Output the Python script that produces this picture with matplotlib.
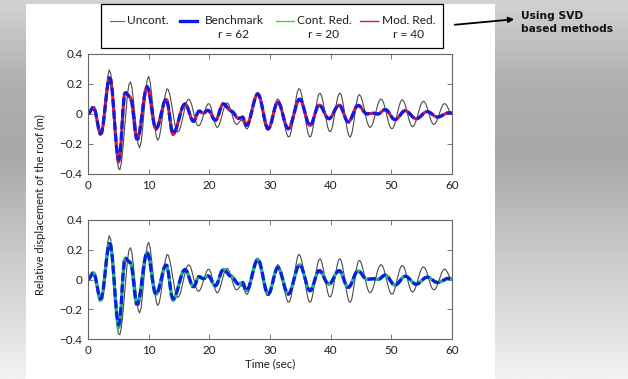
#! /usr/bin/env python3
# Roof displacement, uncontrolled vs controlled (SVD based reduced controllers)

import numpy as np
import matplotlib
matplotlib.use('Agg')
from matplotlib import pyplot as plt
from matplotlib.lines import Line2D
from matplotlib.patches import Rectangle, FancyArrowPatch
from matplotlib.colors import LinearSegmentedColormap

# ==== DATA (every 0.25 s) ====

time = np.arange(0, 60.001, 0.25)

# uncontrolled roof displacement (m)
uncont = [
    0.000, 0.009, 0.029, 0.047, 0.047, 0.012, -0.048, -0.106,
    -0.142, -0.134, -0.067, 0.039, 0.157, 0.251, 0.294, 0.269,
    0.170, 0.025, -0.139, -0.279, -0.363, -0.372, -0.324, -0.229,
    -0.107, 0.020, 0.129, 0.197, 0.214, 0.175, 0.087, -0.016,
    -0.119, -0.199, -0.225, -0.192, -0.097, 0.025, 0.145, 0.228,
    0.250, 0.212, 0.127, 0.027, -0.073, -0.150, -0.175, -0.156,
    -0.101, -0.024, 0.060, 0.130, 0.168, 0.162, 0.126, 0.070,
    0.007, -0.053, -0.099, -0.120, -0.113, -0.088, -0.047, 0.000,
    0.045, 0.080, 0.098, 0.096, 0.074, 0.036, -0.008, -0.048,
    -0.073, -0.080, -0.069, -0.044, -0.012, 0.022, 0.050, 0.067,
    0.068, 0.047, 0.008, -0.036, -0.072, -0.090, -0.084, -0.059,
    -0.024, 0.017, 0.051, 0.072, 0.074, 0.059, 0.030, -0.005,
    -0.038, -0.062, -0.070, -0.063, -0.049, -0.040, -0.047, -0.070,
    -0.093, -0.100, -0.082, -0.042, 0.011, 0.067, 0.113, 0.140,
    0.143, 0.120, 0.071, 0.018, -0.039, -0.085, -0.108, -0.106,
    -0.083, -0.043, 0.005, 0.050, 0.084, 0.100, 0.092, 0.063,
    0.016, -0.039, -0.091, -0.132, -0.153, -0.149, -0.113, -0.051,
    0.023, 0.092, 0.146, 0.169, 0.160, 0.123, 0.063, -0.007,
    -0.074, -0.126, -0.152, -0.149, -0.112, -0.051, 0.021, 0.087,
    0.129, 0.139, 0.121, 0.078, 0.022, -0.037, -0.086, -0.115,
    -0.117, -0.091, -0.039, 0.023, 0.082, 0.125, 0.140, 0.125,
    0.081, 0.020, -0.048, -0.108, -0.145, -0.154, -0.128, -0.070,
    0.002, 0.071, 0.118, 0.130, 0.115, 0.083, 0.039, -0.009,
    -0.052, -0.080, -0.090, -0.081, -0.056, -0.020, 0.022, 0.060,
    0.087, 0.100, 0.094, 0.071, 0.034, -0.009, -0.050, -0.082,
    -0.098, -0.096, -0.075, -0.038, 0.007, 0.048, 0.081, 0.095,
    0.089, 0.066, 0.030, -0.012, -0.049, -0.076, -0.085, -0.077,
    -0.054, -0.022, 0.015, 0.049, 0.074, 0.085, 0.080, 0.060,
    0.029, -0.007, -0.039, -0.062, -0.070, -0.064, -0.045, -0.018,
    0.012, 0.040, 0.061, 0.070, 0.065, 0.048, 0.026, 0.007,
    0.000,
]

# benchmark controller, r = 62
benchmark = [
    0.000, 0.008, 0.027, 0.043, 0.043, 0.011, -0.043, -0.096,
    -0.129, -0.123, -0.070, 0.017, 0.115, 0.197, 0.241, 0.232,
    0.153, 0.025, -0.119, -0.239, -0.304, -0.285, -0.153, 0.021,
    0.134, 0.143, 0.130, 0.118, 0.110, 0.076, -0.011, -0.107,
    -0.166, -0.165, -0.123, -0.052, 0.030, 0.108, 0.163, 0.183,
    0.163, 0.107, 0.034, -0.038, -0.087, -0.100, -0.085, -0.052,
    -0.009, 0.036, 0.074, 0.096, 0.095, 0.047, -0.031, -0.102,
    -0.130, -0.122, -0.101, -0.069, -0.031, 0.007, 0.039, 0.060,
    0.068, 0.059, 0.034, 0.002, -0.028, -0.047, -0.048, -0.027,
    0.003, 0.019, 0.018, 0.009, 0.005, 0.009, 0.020, 0.025,
    0.020, 0.004, -0.018, -0.036, -0.043, -0.033, -0.007, 0.026,
    0.054, 0.068, 0.065, 0.055, 0.041, 0.028, 0.021, 0.018,
    0.008, -0.008, -0.023, -0.030, -0.027, -0.025, -0.020, -0.041,
    -0.075, -0.074, -0.055, -0.022, 0.020, 0.062, 0.100, 0.125,
    0.134, 0.122, 0.087, 0.039, -0.014, -0.062, -0.091, -0.099,
    -0.084, -0.052, -0.010, 0.033, 0.065, 0.080, 0.074, 0.051,
    0.015, -0.026, -0.063, -0.090, -0.099, -0.091, -0.067, -0.031,
    0.009, 0.048, 0.079, 0.097, 0.098, 0.082, 0.049, 0.012,
    -0.027, -0.059, -0.075, -0.074, -0.054, -0.022, 0.013, 0.043,
    0.059, 0.059, 0.047, 0.028, 0.005, -0.015, -0.028, -0.032,
    -0.025, -0.010, 0.010, 0.031, 0.048, 0.058, 0.059, 0.046,
    0.021, -0.009, -0.035, -0.051, -0.053, -0.041, -0.019, 0.007,
    0.033, 0.051, 0.058, 0.054, 0.044, 0.029, 0.015, 0.004,
    0.000, 0.002, 0.003, 0.004, 0.005, 0.004, 0.002, 0.000,
    0.002, 0.009, 0.019, 0.027, 0.030, 0.026, 0.015, -0.001,
    -0.017, -0.030, -0.037, -0.037, -0.030, -0.019, -0.005, 0.008,
    0.018, 0.022, 0.020, 0.014, 0.004, -0.007, -0.019, -0.027,
    -0.032, -0.031, -0.026, -0.018, -0.008, 0.002, 0.010, 0.015,
    0.016, 0.012, 0.006, -0.002, -0.010, -0.016, -0.020, -0.020,
    -0.017, -0.013, -0.007, -0.002, 0.004, 0.007, 0.008, 0.007,
    0.005,
]

# modal reduction, r = 40
mod_red = [
    0.000, 0.008, 0.027, 0.043, 0.043, 0.011, -0.045, -0.100,
    -0.136, -0.130, -0.072, 0.017, 0.115, 0.197, 0.241, 0.232,
    0.153, 0.022, -0.125, -0.250, -0.322, -0.300, -0.160, 0.018,
    0.134, 0.143, 0.130, 0.118, 0.110, 0.076, -0.011, -0.107,
    -0.166, -0.165, -0.123, -0.052, 0.030, 0.108, 0.163, 0.183,
    0.163, 0.107, 0.034, -0.038, -0.087, -0.100, -0.085, -0.052,
    -0.009, 0.036, 0.074, 0.096, 0.095, 0.047, -0.033, -0.108,
    -0.138, -0.128, -0.101, -0.069, -0.031, 0.007, 0.039, 0.060,
    0.068, 0.059, 0.034, 0.002, -0.028, -0.047, -0.048, -0.027,
    0.003, 0.019, 0.018, 0.009, 0.005, 0.009, 0.020, 0.025,
    0.020, 0.004, -0.018, -0.036, -0.043, -0.033, -0.007, 0.026,
    0.054, 0.068, 0.065, 0.055, 0.041, 0.028, 0.021, 0.018,
    0.008, -0.008, -0.023, -0.030, -0.027, -0.025, -0.020, -0.041,
    -0.075, -0.074, -0.055, -0.022, 0.020, 0.062, 0.100, 0.125,
    0.134, 0.122, 0.087, 0.039, -0.014, -0.062, -0.091, -0.099,
    -0.084, -0.052, -0.010, 0.033, 0.065, 0.080, 0.074, 0.051,
    0.015, -0.026, -0.063, -0.090, -0.099, -0.091, -0.067, -0.031,
    0.009, 0.048, 0.079, 0.097, 0.098, 0.082, 0.049, 0.012,
    -0.027, -0.059, -0.075, -0.074, -0.054, -0.022, 0.013, 0.043,
    0.059, 0.059, 0.047, 0.028, 0.005, -0.015, -0.028, -0.032,
    -0.025, -0.010, 0.010, 0.031, 0.048, 0.058, 0.059, 0.046,
    0.021, -0.009, -0.035, -0.051, -0.053, -0.041, -0.019, 0.007,
    0.033, 0.051, 0.058, 0.054, 0.044, 0.029, 0.015, 0.004,
    0.000, 0.002, 0.003, 0.004, 0.005, 0.004, 0.002, 0.000,
    0.002, 0.009, 0.019, 0.027, 0.030, 0.026, 0.015, -0.001,
    -0.017, -0.030, -0.037, -0.037, -0.030, -0.019, -0.005, 0.008,
    0.018, 0.022, 0.020, 0.014, 0.004, -0.007, -0.019, -0.027,
    -0.032, -0.031, -0.026, -0.018, -0.008, 0.002, 0.010, 0.015,
    0.016, 0.012, 0.006, -0.002, -0.010, -0.016, -0.020, -0.020,
    -0.017, -0.013, -0.007, -0.002, 0.004, 0.007, 0.008, 0.007,
    0.005,
]

# controller reduction, r = 20
cont_red = [
    0.000, 0.008, 0.027, 0.043, 0.043, 0.011, -0.045, -0.102,
    -0.140, -0.133, -0.073, 0.017, 0.115, 0.197, 0.241, 0.232,
    0.153, 0.022, -0.126, -0.252, -0.325, -0.302, -0.160, 0.018,
    0.132, 0.142, 0.132, 0.122, 0.118, 0.080, -0.011, -0.107,
    -0.166, -0.165, -0.123, -0.052, 0.030, 0.108, 0.163, 0.183,
    0.163, 0.107, 0.034, -0.038, -0.087, -0.100, -0.085, -0.052,
    -0.009, 0.036, 0.074, 0.096, 0.095, 0.047, -0.033, -0.110,
    -0.140, -0.132, -0.103, -0.069, -0.031, 0.007, 0.039, 0.060,
    0.068, 0.059, 0.034, 0.002, -0.028, -0.047, -0.048, -0.027,
    0.003, 0.019, 0.018, 0.009, 0.005, 0.009, 0.020, 0.025,
    0.020, 0.004, -0.018, -0.036, -0.043, -0.033, -0.007, 0.026,
    0.054, 0.068, 0.065, 0.055, 0.045, 0.034, 0.028, 0.020,
    0.008, -0.008, -0.023, -0.030, -0.027, -0.025, -0.020, -0.041,
    -0.075, -0.074, -0.055, -0.022, 0.020, 0.062, 0.100, 0.125,
    0.134, 0.122, 0.087, 0.039, -0.014, -0.062, -0.091, -0.099,
    -0.084, -0.052, -0.010, 0.033, 0.065, 0.080, 0.074, 0.051,
    0.015, -0.026, -0.063, -0.090, -0.099, -0.091, -0.067, -0.031,
    0.009, 0.048, 0.079, 0.097, 0.098, 0.082, 0.049, 0.012,
    -0.027, -0.059, -0.075, -0.074, -0.054, -0.022, 0.013, 0.043,
    0.059, 0.059, 0.047, 0.028, 0.005, -0.015, -0.028, -0.032,
    -0.025, -0.010, 0.010, 0.031, 0.048, 0.058, 0.059, 0.046,
    0.021, -0.009, -0.035, -0.051, -0.053, -0.041, -0.019, 0.007,
    0.033, 0.051, 0.058, 0.054, 0.044, 0.029, 0.015, 0.004,
    0.000, 0.002, 0.003, 0.004, 0.005, 0.004, 0.002, 0.000,
    0.002, 0.009, 0.019, 0.027, 0.030, 0.026, 0.015, -0.001,
    -0.017, -0.030, -0.037, -0.037, -0.030, -0.019, -0.005, 0.008,
    0.018, 0.022, 0.020, 0.014, 0.004, -0.007, -0.019, -0.027,
    -0.032, -0.031, -0.026, -0.018, -0.008, 0.002, 0.010, 0.015,
    0.016, 0.012, 0.006, -0.002, -0.010, -0.016, -0.020, -0.020,
    -0.017, -0.013, -0.007, -0.002, 0.004, 0.007, 0.008, 0.007,
    0.005,
]

legend_names = ['Uncont.', 'Benchmark', 'Cont. Red.', 'Mod. Red.']
legend_orders = ['', 'r = 62', 'r = 20', 'r = 40']
yticks = [-0.4, -0.2, 0, 0.2, 0.4]
ytick_labels = ['\u22120.4', '\u22120.2', '0', '0.2', '0.4']
xticks = [0, 10, 20, 30, 40, 50, 60]

# ==== PLOT ====

GRAY = '#4a4a4a'
BLUE = '#0a1ee6'
RED = '#dc143c'
GREEN = '#25b07a'
TXT = '#1e1e1e'

plt.rcParams['font.family'] = ['Lato', 'DejaVu Sans']
W, H = 628, 379
fig = plt.figure(figsize=(W / 100, H / 100), dpi=100)

def fx(px):
    return px / W

def fy(py):
    return 1 - py / H

# grey gradient backdrop with the white slide panel
bg = fig.add_axes([0, 0, 1, 1], zorder=-10)
cmap = LinearSegmentedColormap.from_list(
    'bg', [(0.0, '#d2d2d2'), (0.22, '#afafaf'), (0.4, '#a8a8a8'),
           (0.65, '#c6c6c6'), (1.0, '#f2f2f2')])
bg.imshow(np.linspace(0, 1, 200).reshape(-1, 1), aspect='auto', cmap=cmap,
          extent=[0, 1, 0, 1], origin='upper')
bg.add_patch(Rectangle((fx(26), 0), fx(495 - 26), 1 - 4 / H,
                       facecolor='white', edgecolor='none'))
bg.set_xlim(0, 1)
bg.set_ylim(0, 1)
bg.axis('off')

ax1 = fig.add_axes([fx(88), fy(174), fx(364), 120 / H])
ax2 = fig.add_axes([fx(88), fy(339), fx(364), 119 / H])

dash = (0, (2.6, 1.0))
ax1.plot(time, uncont, color=GRAY, lw=0.8)
ax1.plot(time, mod_red, color=RED, lw=2.2)
ax1.plot(time, benchmark, color=BLUE, lw=2.3, linestyle=dash)

ax2.plot(time, uncont, color=GRAY, lw=0.8)
ax2.plot(time, cont_red, color=GREEN, lw=2.4)
ax2.plot(time, benchmark, color=BLUE, lw=2.3, linestyle=dash)

for ax in (ax1, ax2):
    ax.set_xlim(0, 60)
    ax.set_ylim(-0.4, 0.4)
    ax.set_xticks(xticks)
    ax.set_xticklabels([str(x) for x in xticks])
    ax.set_yticks(yticks)
    ax.set_yticklabels(ytick_labels)
    ax.tick_params(direction='in', top=True, right=True, length=3.5,
                   width=0.6, color='#666666', labelsize=8.4, pad=4,
                   labelcolor=TXT)
    for sp in ax.spines.values():
        sp.set_color('#666666')
        sp.set_linewidth(0.8)

ax2.set_xlabel('Time (sec)', fontsize=8.2, color=TXT, labelpad=2)
fig.text(fx(40), fy(205), 'Relative displacement of the roof (m)',
         rotation=90, ha='center', va='center', fontsize=8, color=TXT)

# legend box drawn by hand so the handles sit on the first text row
fig.add_artist(Rectangle((fx(101), fy(48)), fx(342), 44 / H,
                         transform=fig.transFigure, facecolor='white',
                         edgecolor='black', lw=0.9))
handle_x = [(110, 124), (180, 197), (276, 294), (360, 378)]
handle_style = [('#666666', 0.8), (BLUE, 2.4), ('#33dd33', 1.0), (RED, 1.0)]
text_cx = [148, 234, 324, 409]
for (x0, x1), (c, lw), cx, name, order in zip(handle_x, handle_style, text_cx,
                                                legend_names, legend_orders):
    fig.add_artist(Line2D([fx(x0), fx(x1)], [fy(21), fy(21)], color=c, lw=lw,
                          transform=fig.transFigure))
    fig.text(fx(cx), fy(21), name, ha='center', va='center', fontsize=8.6,
             color=TXT)
    if order:
        fig.text(fx(cx), fy(34.5), order, ha='center', va='center',
                 fontsize=8.6, color=TXT)

# arrow + note on the right
fig.add_artist(FancyArrowPatch((fx(452), fy(25)), (fx(517), fy(19)),
                               transform=fig.transFigure, arrowstyle='-|>',
                               mutation_scale=8, color='black', lw=1.3))
fig.text(fx(521), fy(11), 'Using SVD\nbased methods', ha='left', va='top',
         fontsize=7.7, fontweight='bold', color='#111111', linespacing=1.35,
         family='DejaVu Sans')

fig.savefig('out.png', dpi=100)
